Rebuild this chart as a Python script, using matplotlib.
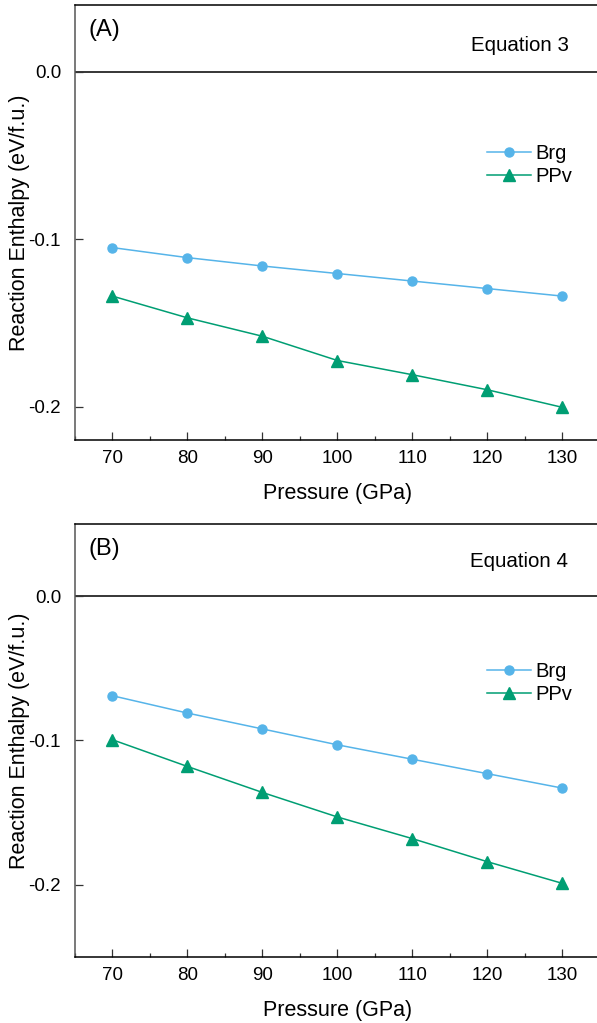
import numpy as np
import matplotlib
matplotlib.use('Agg')
import matplotlib.pyplot as plt
from matplotlib.ticker import MultipleLocator

plt.rcParams['font.family'] = ['Liberation Sans', 'DejaVu Sans']

# data
pressure = [70, 80, 90, 100, 110, 120, 130]
brg_eq3 = [-0.105, -0.111, -0.116, -0.1205, -0.125, -0.1295, -0.134]
ppv_eq3 = [-0.134, -0.147, -0.158, -0.1725, -0.181, -0.190, -0.2005]
brg_eq4 = [-0.069, -0.081, -0.092, -0.103, -0.113, -0.123, -0.133]
ppv_eq4 = [-0.0995, -0.118, -0.136, -0.153, -0.168, -0.184, -0.199]

panel_labels = ['(A)', '(B)']
eq_labels = ['Equation 3', 'Equation 4']
ylims = [(-0.22, 0.04), (-0.25, 0.05)]

c_brg = '#56B4E9'
c_ppv = '#009E73'

fig = plt.figure(figsize=(5.97, 10.23), dpi=100)
ax_a = fig.add_axes([0.1256, 0.5699, 0.8794, 0.4252])
ax_b = fig.add_axes([0.1256, 0.0645, 0.8794, 0.4233])

series = [(brg_eq3, ppv_eq3), (brg_eq4, ppv_eq4)]
eq_y = [0.908, 0.914]
leg_y = [0.681, 0.681]
for i, ax in enumerate([ax_a, ax_b]):
    brg, ppv = series[i]
    ax.axhline(0.0, color='black', lw=1.1, zorder=1)
    ax.plot(pressure, brg, color=c_brg, lw=1.1, marker='o', ms=6.5, label='Brg')
    ax.plot(pressure, ppv, color=c_ppv, lw=1.1, marker='^', ms=8, label='PPv')

    ax.set_xlim(65, 135)
    ax.set_ylim(*ylims[i])
    ax.set_xticks(pressure)
    ax.xaxis.set_minor_locator(MultipleLocator(5))
    ax.set_yticks([-0.2, -0.1, 0.0])
    ax.set_yticklabels(['-0.2', '-0.1', '0.0'])
    ax.tick_params(axis='both', which='major', direction='in', length=6,
                   width=0.9, labelsize=13.5, pad=7, color='#333333')
    ax.tick_params(axis='both', which='minor', direction='in', length=3,
                   width=0.9, color='#333333')
    ax.tick_params(axis='y', pad=10)
    ax.yaxis.set_minor_locator(MultipleLocator(0.1))
    ax.tick_params(axis='y', which='minor', length=0)
    for s in ['left', 'bottom', 'top', 'right']:
        ax.spines[s].set_linewidth(1.1)
    ax.spines['left'].set_color('#555555')

    ax.set_xlabel('Pressure (GPa)', fontsize=15.5, labelpad=12)
    ax.set_ylabel('Reaction Enthalpy (eV/f.u.)', fontsize=15.5, labelpad=-1)

    ax.text(0.025, 0.943, panel_labels[i], transform=ax.transAxes,
            fontsize=17, ha='left', va='center')
    ax.text(0.94, eq_y[i], eq_labels[i], transform=ax.transAxes,
            fontsize=14.8, ha='right', va='center')

    ax.legend(loc='upper left', bbox_to_anchor=(0.785, leg_y[i]),
              frameon=False, fontsize=14.5, handlelength=2.2, handletextpad=0.2,
              labelspacing=0.2, borderpad=0, borderaxespad=0)

fig.savefig('out.png', dpi=100)
